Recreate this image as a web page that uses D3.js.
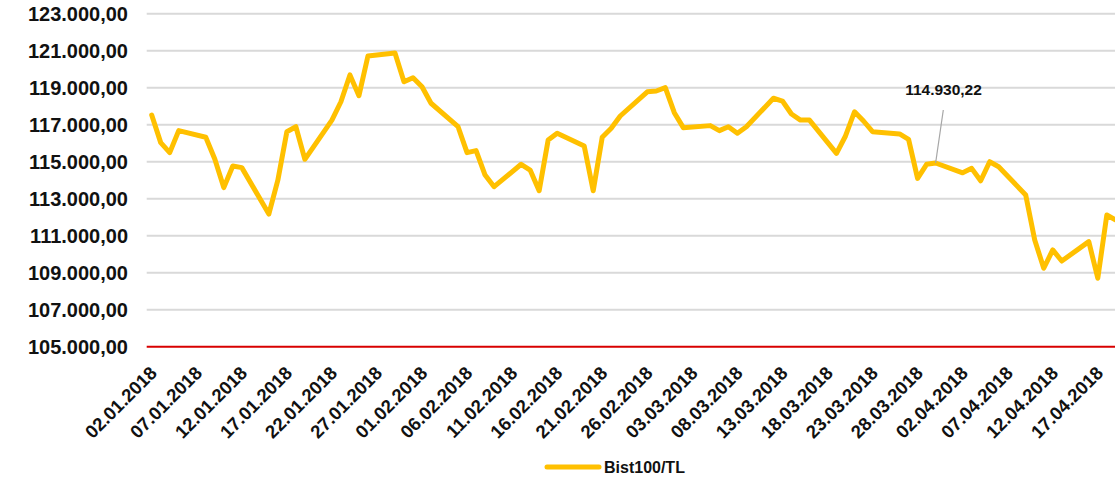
<!DOCTYPE html>
<html lang="tr">
<head>
  <meta charset="UTF-8">
  <title>Bist100/TL</title>
  <style>
  body { margin: 0; background: #fff; }
  #chart svg { display: block; font-family: "Liberation Sans", Arial, sans-serif; font-weight: bold; }
  </style>
</head>
<body>
  <div id="chart"></div>
  <script src="https://cdn.jsdelivr.net/npm/d3@7"></script>
  <script>
    // trading days (dd.mm.yyyy) and closing values
    const dates = [
      '02.01.2018', '03.01.2018', '04.01.2018', '05.01.2018',
      '08.01.2018', '09.01.2018', '10.01.2018', '11.01.2018', '12.01.2018',
      '15.01.2018', '16.01.2018', '17.01.2018', '18.01.2018', '19.01.2018',
      '22.01.2018', '23.01.2018', '24.01.2018', '25.01.2018', '26.01.2018',
      '29.01.2018', '30.01.2018', '31.01.2018', '01.02.2018', '02.02.2018',
      '05.02.2018', '06.02.2018', '07.02.2018', '08.02.2018', '09.02.2018',
      '12.02.2018', '13.02.2018', '14.02.2018', '15.02.2018', '16.02.2018',
      '19.02.2018', '20.02.2018', '21.02.2018', '22.02.2018', '23.02.2018',
      '26.02.2018', '27.02.2018', '28.02.2018', '01.03.2018', '02.03.2018',
      '05.03.2018', '06.03.2018', '07.03.2018', '08.03.2018', '09.03.2018',
      '12.03.2018', '13.03.2018', '14.03.2018', '15.03.2018', '16.03.2018',
      '19.03.2018', '20.03.2018', '21.03.2018', '22.03.2018', '23.03.2018',
      '26.03.2018', '27.03.2018', '28.03.2018', '29.03.2018', '30.03.2018',
      '02.04.2018', '03.04.2018', '04.04.2018', '05.04.2018', '06.04.2018',
      '09.04.2018', '10.04.2018', '11.04.2018', '12.04.2018', '13.04.2018',
      '16.04.2018', '17.04.2018', '18.04.2018', '19.04.2018'
    ];
    const bist100 = [
      117520, 116030, 115490, 116680,
      116320, 115150, 113600, 114770, 114680,
      112170, 114000, 116620, 116890, 115130,
      117250, 118240, 119690, 118570, 120710,
      120880, 119320, 119540, 119050, 118160,
      116890, 115490, 115600, 114280, 113650,
      114860, 114550, 113430, 116170, 116540,
      115850, 113430, 116320, 116810, 117470,
      118780, 118820, 119000, 117650, 116840,
      116950, 116680, 116890, 116540, 116890,
      118430, 118280, 117580, 117250, 117250,
      115450, 116390, 117700, 117200, 116620,
      116500, 116210, 114100, 114860, 114930.22,
      114400, 114640, 113970, 115000, 114730,
      113200, 110770, 109240, 110230, 109630,
      110680, 108700, 112120, 111850
    ];
    const tickLabels = [
      '02.01.2018', '07.01.2018', '12.01.2018', '17.01.2018', '22.01.2018',
      '27.01.2018', '01.02.2018', '06.02.2018', '11.02.2018', '16.02.2018',
      '21.02.2018', '26.02.2018', '03.03.2018', '08.03.2018', '13.03.2018',
      '18.03.2018', '23.03.2018', '28.03.2018', '02.04.2018', '07.04.2018',
      '12.04.2018', '17.04.2018'
    ];
    const yTicks = [105000, 107000, 109000, 111000, 113000, 115000, 117000, 119000, 121000, 123000];
    const seriesName = 'Bist100/TL';
    const labelDate = '30.03.2018';

    const W = 1115, H = 479;
    const parse = d3.utcParse('%d.%m.%Y');
    const data = dates.map((d, i) => ({ date: parse(d), value: bist100[i] }));

    const x = d3.scaleUtc()
      .domain([parse('02.01.2018'), parse('17.04.2018')])
      .range([151.7, 1097.8]);
    const y = d3.scaleLinear()
      .domain([105000, 123000])
      .range([346.7, 13.7]);

    const plotLeft = 146.7;
    const fmt = d3.formatLocale({ decimal: ',', thousands: '.', grouping: [3], currency: ['', ''] }).format(',.2f');

    const svg = d3.select('#chart').append('svg')
      .attr('width', W)
      .attr('height', H);

    // gridlines
    svg.append('g')
      .selectAll('line')
      .data(yTicks.filter(t => t !== 105000))
      .join('line')
      .attr('x1', plotLeft)
      .attr('x2', W)
      .attr('y1', d => y(d))
      .attr('y2', d => y(d))
      .attr('stroke', '#d9d9d9')
      .attr('stroke-width', 2);

    // y labels
    svg.append('g')
      .selectAll('text')
      .data(yTicks)
      .join('text')
      .attr('x', 128)
      .attr('y', d => y(d))
      .attr('dy', '0.36em')
      .attr('text-anchor', 'end')
      .attr('font-size', 20)
      .attr('fill', '#111')
      .text(d => fmt(d));

    // baseline
    svg.append('line')
      .attr('x1', plotLeft)
      .attr('x2', W)
      .attr('y1', y(105000))
      .attr('y2', y(105000))
      .attr('stroke', '#d80000')
      .attr('stroke-width', 2);

    // x labels
    svg.append('g')
      .selectAll('text')
      .data(tickLabels)
      .join('text')
      .attr('transform', d => `translate(${x(parse(d)) - 3},${y(105000) + 18}) rotate(-45)`)
      .attr('text-anchor', 'end')
      .attr('dy', '0.72em')
      .attr('font-size', 18.5)
      .attr('fill', '#111')
      .text(d => d);

    // line
    const line = d3.line()
      .x(d => x(d.date))
      .y(d => y(d.value));

    svg.append('path')
      .datum(data)
      .attr('d', line)
      .attr('fill', 'none')
      .attr('stroke', '#ffc000')
      .attr('stroke-width', 5)
      .attr('stroke-linejoin', 'round')
      .attr('stroke-linecap', 'round');

    // data label with leader
    const lp = data.find(d => +d.date === +parse(labelDate));
    svg.append('line')
      .attr('x1', 943.3)
      .attr('y1', 110)
      .attr('x2', x(lp.date))
      .attr('y2', y(lp.value))
      .attr('stroke', '#a6a6a6')
      .attr('stroke-width', 1.2);
    svg.append('text')
      .attr('x', 943.5)
      .attr('y', 95)
      .attr('text-anchor', 'middle')
      .attr('font-size', 15.5)
      .attr('fill', '#111')
      .text(fmt(lp.value));

    // legend
    const lg = svg.append('g');
    lg.append('line')
      .attr('x1', 547).attr('x2', 599)
      .attr('y1', 467).attr('y2', 467)
      .attr('stroke', '#ffc000')
      .attr('stroke-width', 5)
      .attr('stroke-linecap', 'round');
    lg.append('text')
      .attr('x', 604)
      .attr('y', 473)
      .attr('font-size', 16)
      .attr('fill', '#111')
      .text(seriesName);
  </script>
</body>
</html>
